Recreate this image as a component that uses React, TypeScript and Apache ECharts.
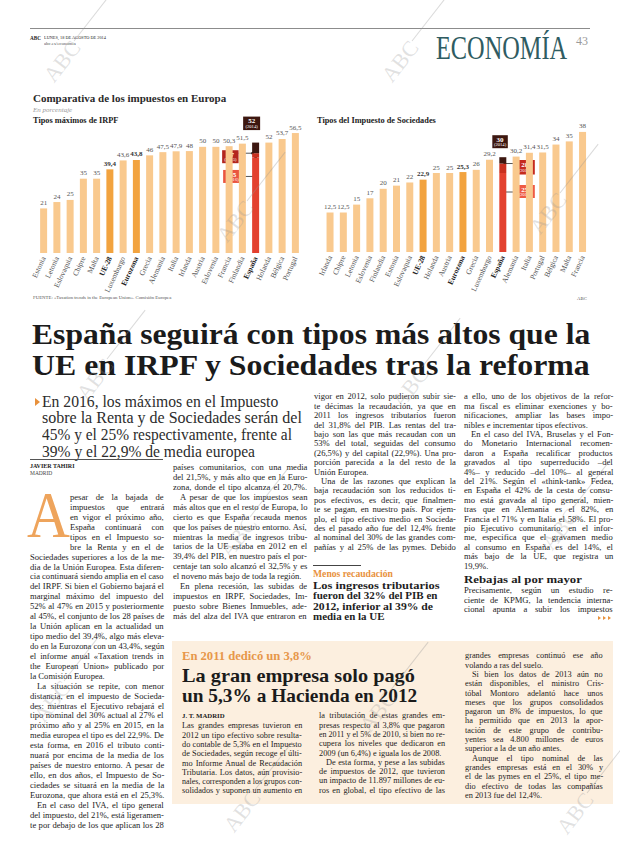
import React, { useEffect, useLayoutEffect, useRef } from 'react';
import * as echarts from 'echarts';

// ---------- chart data ----------
const irpfCountries = ['Estonia', 'Letonia', 'Eslovaquia', 'Chipre', 'Malta', 'UE-28', 'Luxemburgo', 'Eurozona', 'Grecia', 'Alemania', 'Italia', 'Irlanda', 'Austria', 'Eslovenia', 'Francia', 'Finlandia', 'España', 'Holanda', 'Bélgica', 'Portugal'];
const irpfValues = [21, 24, 25, 35, 35, 39.4, 43.6, 43.8, 46, 47.5, 47.9, 48, 50, 50, 50.3, 51.5, 52, 52, 53.7, 56.5];
const socCountries = ['Irlanda', 'Chipre', 'Letonia', 'Eslovenia', 'Finlandia', 'Estonia', 'Eslovaquia', 'UE-28', 'Holanda', 'Austria', 'Eurozona', 'Grecia', 'Luxemburgo', 'España', 'Alemania', 'Italia', 'Portugal', 'Bélgica', 'Malta', 'Francia'];
const socValues = [12.5, 12.5, 15, 17, 20, 21, 22, 22.9, 25, 25, 25.3, 26, 29.2, 30, 30.2, 31.4, 31.5, 34, 35, 38];
const spainYears = ['2014', '2015', '2016'];
const spainIrpf = [52, 47, 45];
const spainSoc = [30, 28, 25];
const averages = ['UE-28', 'Eurozona'];

// ---------- article text ----------
const headlineLines = ['España seguirá con tipos más altos que la', 'UE en IRPF y Sociedades tras la reforma'];
const leadLines = ['En 2016, los máximos en el Impuesto', 'sobre la Renta y de Sociedades serán del', '45% y el 25% respectivamente, frente al', '39% y el 22,9% de media europea'];
const col1Lines = [
  'pesar de la bajada de', 'impuestos que entrará', 'en vigor el próximo año,', 'España continuará con', 'tipos en el Impuesto so-', 'bre la Renta y en el de',
  'Sociedades superiores a los de la me-', 'dia de la Unión Europea. Esta diferen-', 'cia continuará siendo amplia en el caso', 'del IRPF. Si bien el Gobierno bajará el',
  'marginal máximo del impuesto del', '52% al 47% en 2015 y posteriormente', 'al 45%, el conjunto de los 28 países de', 'la Unión aplican en la actualidad un',
  'tipo medio del 39,4%, algo más eleva-', 'do en la Eurozona con un 43,4%, según', 'el informe anual «Taxation trends in', 'the European Union» publicado por', 'la Comisión Europea.~',
  '^La situación se repite, con menor', 'distancia, en el impuesto de Socieda-', 'des: mientras el Ejecutivo rebajará el', 'tipo nominal del 30% actual al 27% el',
  'próximo año y al 25% en 2015, en la', 'media europea el tipo es del 22,9%. De', 'esta forma, en 2016 el tributo conti-', 'nuará por encima de la media de los',
  'países de nuestro entorno. A pesar de', 'ello, en dos años, el Impuesto de So-', 'ciedades se situará en la media de la', 'Eurozona, que ahora está en el 25,3%.',
  '^En el caso del IVA, el tipo general', 'del impuesto, del 21%, está ligeramen-', 'te por debajo de los que aplican los 28',
];
const col2Lines = [
  'países comunitarios, con una media', 'del 21,5%, y más alto que en la Euro-', 'zona, donde el tipo alcanza el 20,7%.',
  '^A pesar de que los impuestos sean', 'más altos que en el resto de Europa, lo', 'cierto es que España recauda menos', 'que los países de nuestro entorno. Así,',
  'mientras la media de ingresos tribu-', 'tarios de la UE estaba en 2012 en el', '39,4% del PIB, en nuestro país el por-', 'centaje tan solo alcanzó el 32,5% y es',
  'el noveno más bajo de toda la región.~', '^En plena recesión, las subidas de', 'impuestos en IRPF, Sociedades, Im-', 'puesto sobre Bienes Inmuebles, ade-', 'más del alza del IVA que entraron en',
];
const col3Lines = [
  'vigor en 2012, solo pudieron subir sie-', 'te décimas la recaudación, ya que en', '2011 los ingresos tributarios fueron', 'del 31,8% del PIB. Las rentas del tra-',
  'bajo son las que más recaudan con un', '53% del total, seguidas del consumo', '(26,5%) y del capital (22,9%). Una pro-', 'porción parecida a la del resto de la', 'Unión Europea.~',
  '^Una de las razones que explican la', 'baja recaudación son los reducidos ti-', 'pos efectivos, es decir, que finalmen-', 'te se pagan, en nuestro país. Por ejem-',
  'plo, el tipo efectivo medio en Socieda-', 'des el pasado año fue del 12,4% frente', 'al nominal del 30% de las grandes com-', 'pañías y al 25% de las pymes. Debido',
];
const col4Lines = [
  'a ello, uno de los objetivos de la refor-', 'ma fiscal es eliminar exenciones y bo-', 'nificaciones, ampliar las bases impo-', 'nibles e incrementar tipos efectivos.~',
  '^En el caso del IVA, Bruselas y el Fon-', 'do Monetario Internacional recomen-', 'daron a España recalificar productos', 'gravados al tipo superreducido –del',
  '4%– y reducido –del 10%– al general', 'del 21%. Según el «think-tank» Fedea,', 'en España el 42% de la cesta de consu-', 'mo está gravada al tipo general, mien-',
  'tras que en Alemania es el 82%, en', 'Francia el 71% y en Italia el 58%. El pro-', 'pio Ejecutivo comunitario, en el infor-', 'me, especifica que el gravamen medio',
  'al consumo en España es del 14%, el', 'más bajo de la UE, que registra un', '19,9%.~',
];
const col4bLines = ['Precisamente, según un estudio re-', 'ciente de KPMG, la tendencia interna-', 'cional apunta a subir los impuestos'];
const sideHeadLines = ['Los ingresos tributarios', 'fueron del 32% del PIB en', '2012, inferior al 39% de', 'media en la UE'];
const boxHeadLines = ['La gran empresa solo pagó', 'un 5,3% a Hacienda en 2012'];
const boxALines = [
  'Las grandes empresas tuvieron en', '2012 un tipo efectivo sobre resulta-', 'do contable de 5,3% en el Impuesto', 'de Sociedades, según recoge el últi-',
  'mo Informe Anual de Recaudación', 'Tributaria. Los datos, aún provisio-', 'nales, corresponden a los grupos con-', 'solidados y suponen un aumento en',
];
const boxBLines = [
  'la tributación de estas grandes em-', 'presas respecto al 3,8% que pagaron', 'en 2011 y el 5% de 2010, si bien no re-', 'cupera los niveles que dedicaron en',
  '2009 (un 6,4%) e iguala los de 2008.~', '^De esta forma, y pese a las subidas', 'de impuestos de 2012, que tuvieron', 'un impacto de 11.897 millones de eu-',
  'ros en global, el tipo efectivo de las',
];
const boxCLines = [
  'grandes empresas continuó ese año', 'volando a ras del suelo.~', '^Si bien los datos de 2013 aún no', 'están disponibles, el ministro Cris-',
  'tóbal Montoro adelantó hace unos', 'meses que los grupos consolidados', 'pagaron un 8% de impuestos, lo que', 'ha permitido que en 2013 la apor-',
  'tación de este grupo de contribu-', 'yentes sea 4.800 millones de euros', 'superior a la de un año antes.~', '^Aunque el tipo nominal de las',
  'grandes empresas está en el 30% y', 'el de las pymes en el 25%, el tipo me-', 'dio efectivo de todas las compañías', 'en 2013 fue del 12,4%.~',
];

const SERIF = '"Liberation Serif", "DejaVu Serif", serif';
const PEACH = '#f9c98e';
const ORANGE = '#f2a33f';
const RED = '#e3412f';
const MID = '#c9301f';
const DARK = '#3d1710';
const ACCENT = '#e8913c';

const fmt = (v: number) => String(v).replace('.', ',');

function barSeries(countries: string[], values: number[], spain: number[], idx: number) {
  const si = countries.indexOf('España');
  const main = countries.map((c, i) => {
    if (i === si) return { value: spain[2], itemStyle: { color: RED }, label: { show: false } };
    const avg = averages.includes(c);
    return avg
      ? { value: values[i], itemStyle: { color: ORANGE }, label: { fontWeight: 'bold', color: '#333' } }
      : { value: values[i], itemStyle: { color: PEACH } };
  });
  const mid = countries.map((c, i) => (i === si ? +(spain[1] - spain[2]).toFixed(2) : '-'));
  const top = countries.map((c, i) => (i === si ? +(spain[0] - spain[1]).toFixed(2) : '-'));
  const base = { type: 'bar', xAxisIndex: idx, yAxisIndex: idx, stack: 's' + idx, barWidth: 7 };
  return [
    {
      ...base, data: main,
      label: { show: true, position: 'top', distance: 2, fontSize: 7, fontFamily: SERIF, color: '#555', formatter: (p: any) => fmt(p.value) },
    },
    { ...base, data: mid, itemStyle: { color: MID } },
    { ...base, data: top, itemStyle: { color: DARK } },
  ];
}

function xAxisFor(countries: string[], idx: number) {
  return {
    type: 'category', gridIndex: idx, data: countries,
    axisLine: { show: false }, axisTick: { show: false },
    axisLabel: {
      interval: 0, rotate: 65, margin: 4, fontSize: 7.5, color: '#4a4a4a', fontFamily: SERIF,
      formatter: (v: string) => (averages.includes(v) || v === 'España' ? `{b|${v}}` : v),
      rich: { b: { fontWeight: 'bold', color: '#222', fontSize: 7.5, fontFamily: SERIF } },
    },
  };
}

function boxEls(x: number, y: number, w: number, h: number, fill: string, val: number, year: string) {
  return [
    { type: 'rect', shape: { x, y, width: w, height: h }, style: { fill } },
    { type: 'text', x: x + w / 2, y: y + h * 0.36, style: { text: fmt(val), fill: '#fff', fontSize: 7, fontWeight: 'bold', fontFamily: SERIF, align: 'center', verticalAlign: 'middle' } },
    { type: 'text', x: x + w / 2, y: y + h * 0.75, style: { text: `(${year})`, fill: '#fff', fontSize: 4.6, fontFamily: SERIF, align: 'center', verticalAlign: 'middle' } },
  ];
}

function spainMarks(chart: any, idx: number, countries: string[], spain: number[], side: 'left' | 'right') {
  const si = countries.indexOf('España');
  const px = (v: number) => chart.convertToPixel({ xAxisIndex: idx, yAxisIndex: idx }, [si, v]);
  const [cx, y0] = px(spain[0]);
  const y1 = px(spain[1])[1];
  const y2 = px(spain[2])[1];
  const lineStyle = { stroke: '#2a2a2a', lineWidth: 0.8, fill: null };
  const dot = (x: number, y: number) => ({ type: 'circle', shape: { cx: x, cy: y, r: 1.4 }, style: { fill: '#1a1a1a' } });
  if (side === 'left') {
    return [
      ...boxEls(cx - 12.5, y0 - 26, 17, 13.5, DARK, spain[0], spainYears[0]),
      { type: 'polyline', shape: { points: [[cx - 17, y1], [cx - 3, y1]] }, style: lineStyle },
      dot(cx - 3, y1),
      ...boxEls(cx - 33.5, y1 - 3, 16.5, 13, '#b3261e', spain[1], spainYears[1]),
      { type: 'polyline', shape: { points: [[cx - 13.5, y2 + 19], [cx, y2 + 19], [cx, y2]] }, style: lineStyle },
      dot(cx, y2),
      ...boxEls(cx - 32.5, y2 + 12.5, 19, 13, '#ea5540', spain[2], spainYears[2]),
    ];
  }
  return [
    ...boxEls(cx - 10.5, y0 - 22, 15.5, 13, DARK, spain[0], spainYears[0]),
    { type: 'polyline', shape: { points: [[cx + 2, y1], [cx + 12, y1]] }, style: lineStyle },
    dot(cx + 2, y1),
    ...boxEls(cx + 12, y1 - 3.5, 20, 14.5, '#c52a1e', spain[1], spainYears[1]),
    { type: 'polyline', shape: { points: [[cx, y2], [cx, y2 + 19], [cx + 12, y2 + 19]] }, style: lineStyle },
    dot(cx, y2),
    ...boxEls(cx + 12, y2 + 12, 20, 13, '#ee5a44', spain[2], spainYears[2]),
  ];
}

function chartTexts() {
  const t = (x: number, y: number, text: string, fontSize: number, extra: any = {}) => ({
    type: 'text', x, y, style: { text, fontSize, fontFamily: SERIF, fill: '#222', verticalAlign: 'middle', ...extra },
  });
  return [
    t(33, 98, 'Comparativa de los impuestos en Europa', 11, { fontWeight: 'bold', fill: '#2a2a2a' }),
    t(33, 110, 'En porcentaje', 7, { fontStyle: 'italic', fill: '#9a9a9a' }),
    t(33, 120, 'Tipos máximos de IRPF', 8.3, { fontWeight: 'bold' }),
    t(317, 120, 'Tipos del Impuesto de Sociedades', 8.3, { fontWeight: 'bold' }),
    t(33, 297, 'FUENTE: «Taxation trends in the European Union». Comisión Europea', 4.8, { fill: '#555' }),
    t(577, 298, 'ABC', 4.8, { fill: '#555' }),
  ];
}

function Charts() {
  const ref = useRef<HTMLDivElement>(null);
  useEffect(() => {
    const chart = echarts.init(ref.current as HTMLDivElement, null, { renderer: 'svg' });
    chart.setOption({
      animation: false,
      backgroundColor: 'transparent',
      grid: [
        { left: 37, top: 125.6, width: 265, height: 127.4 },
        { left: 323.4, top: 125.6, width: 265.8, height: 126.4 },
      ],
      xAxis: [xAxisFor(irpfCountries, 0), xAxisFor(socCountries, 1)],
      yAxis: [
        { type: 'value', gridIndex: 0, min: 0, max: 60, show: false },
        { type: 'value', gridIndex: 1, min: 0, max: 40, show: false },
      ],
      series: [...barSeries(irpfCountries, irpfValues, spainIrpf, 0), ...barSeries(socCountries, socValues, spainSoc, 1)],
    });
    chart.setOption({
      graphic: [
        ...chartTexts(),
        ...spainMarks(chart, 0, irpfCountries, spainIrpf, 'left'),
        ...spainMarks(chart, 1, socCountries, spainSoc, 'right'),
      ],
    });
    return () => chart.dispose();
  }, []);
  return <div ref={ref} style={{ position: 'absolute', left: 0, top: 0, width: 620, height: 305 }} />;
}

// ---------- text helpers ----------
type LineProps = {
  text: string; x: number; y: number; w?: number; size: number; lh?: number; weight?: any;
  color?: string; mode?: 'justify' | 'fit' | 'left'; italic?: boolean; ls?: number; family?: string;
};

function Line(p: LineProps) {
  const ref = useRef<HTMLSpanElement>(null);
  useLayoutEffect(() => {
    const el = ref.current;
    if (!el) return;
    const fit = () => {
      el.style.wordSpacing = '0px';
      el.style.transform = 'none';
      const nat = el.offsetWidth;
      if (!p.w || nat === 0) return;
      const mode = p.mode || 'left';
      if (mode === 'fit' || nat > p.w) {
        el.style.transform = `scaleX(${p.w / nat})`;
        return;
      }
      if (mode === 'justify') {
        const sp = (p.text.match(/ /g) || []).length;
        if (sp > 0) el.style.wordSpacing = `${(p.w - nat) / sp}px`;
      }
    };
    fit();
    const fonts = (document as any).fonts;
    if (fonts && fonts.ready) fonts.ready.then(fit);
  }, [p.text, p.w, p.mode]);
  const lh = p.lh ?? p.size * 1.2;
  return (
    <div style={{
      position: 'absolute', left: p.x, top: p.y - lh / 2, height: lh, lineHeight: `${lh}px`, whiteSpace: 'pre',
      fontSize: p.size, fontFamily: p.family || SERIF, fontWeight: p.weight || 'normal', fontStyle: p.italic ? 'italic' : 'normal',
      color: p.color || '#1c1c1c', letterSpacing: p.ls,
    }}>
      <span ref={ref} style={{ display: 'inline-block', transformOrigin: '0 50%' }}>{p.text}</span>
    </div>
  );
}

function Column(props: { lines: string[]; x: number; w: number; y0: number; lh: number; size: number; drop?: number; dropIndent?: number }) {
  return (
    <>
      {props.lines.map((raw, i) => {
        let t = raw;
        let indent = 0;
        let end = false;
        if (t.startsWith('^')) { t = t.slice(1); indent = 7; }
        if (t.endsWith('~')) { t = t.slice(0, -1); end = true; }
        if (props.drop && i < props.drop) indent = props.dropIndent || 0;
        return (
          <Line key={i} text={t} x={props.x + indent} y={props.y0 + i * props.lh} w={props.w - indent}
            size={props.size} lh={props.lh} mode={end ? 'left' : 'justify'} />
        );
      })}
    </>
  );
}

const Tri = ({ x, y, s = 4, color = ACCENT }: { x: number; y: number; s?: number; color?: string }) => (
  <div style={{ position: 'absolute', left: x, top: y - s, width: 0, height: 0, borderTop: `${s}px solid transparent`, borderBottom: `${s}px solid transparent`, borderLeft: `${s * 1.3}px solid ${color}` }} />
);

const watermarks = [[62, 62], [400, 62], [235, 222], [548, 214], [95, 380], [410, 388], [238, 538], [560, 530], [52, 702], [378, 712], [242, 812], [575, 814]];

const Watermark = ({ x, y }: { x: number; y: number }) => (
  <div style={{ position: 'absolute', left: x - 22, top: y - 12, width: 130, height: 24, transform: 'rotate(-52deg)', transformOrigin: '22px 12px', pointerEvents: 'none' }}>
    <span style={{ fontFamily: SERIF, fontSize: 22, lineHeight: '24px', color: 'rgba(150,150,150,0.28)' }}>ABC</span>
    <div style={{ position: 'absolute', left: 46, top: 8, width: 62, height: 0.8, background: 'rgba(150,150,150,0.35)' }} />
  </div>
);

export default function App() {
  const BODY = 8.6;
  const LH = 9.4;
  const LH12 = 9.93;
  return (
    <div style={{ position: 'absolute', left: 0, top: 0, width: 620, height: 846, background: '#fff', overflow: 'hidden' }}>
      {/* header */}
      <div style={{ position: 'absolute', left: 30, top: 28, width: 560, height: 1, background: '#8c8c8c' }} />
      <Line text="ABC" x={30} y={38} size={5.2} weight="bold" />
      <Line text="LUNES, 18 DE AGOSTO DE 2014" x={44} y={38} w={62} size={5} mode="fit" />
      <Line text="abc.es/economia" x={44} y={44} w={32} size={4.2} mode="fit" color="#555" />
      <Line text="ECONOMÍA" x={436} y={48} w={131} size={34} mode="fit" color="#2f5c62" lh={36} />
      <Line text="43" x={576} y={41} size={12} color="#9a9a9a" />

      <Charts />

      {/* headline */}
      {headlineLines.map((t, i) => (
        <Line key={'h' + i} text={t} x={32} y={333 + i * 31} w={558} size={30} lh={31} weight="bold" mode="fit" color="#1b1b1b" />
      ))}

      {/* lead */}
      <Tri x={35} y={402} s={4} />
      {leadLines.map((t, i) => (
        <Line key={'l' + i} text={t} x={42} y={402 + i * 16.8} w={[236, 260, 250, 213][i]} size={16} lh={16.8} mode="fit" color="#2c2c2c" />
      ))}

      {/* byline */}
      <div style={{ position: 'absolute', left: 30, top: 459, width: 133, height: 1, background: '#555' }} />
      <Line text="JAVIER TAHIRI" x={30} y={466} w={45} size={6} lh={6.5} weight="bold" mode="fit" />
      <Line text="MADRID" x={30} y={473} w={22} size={5.5} lh={6} mode="fit" color="#444" />

      {/* drop cap */}
      <div style={{ position: 'absolute', left: 27, top: 478, height: 73, fontFamily: SERIF, fontSize: 66, lineHeight: '73px', color: '#eea45c', transform: 'scaleX(0.9)', transformOrigin: '0 0' }}>A</div>

      <Column lines={col1Lines} x={30} w={134} y0={498} lh={LH12} size={BODY} drop={6} dropIndent={40} />
      <Column lines={col2Lines} x={173} w={134} y0={468} lh={LH12} size={BODY} />
      <Column lines={col3Lines} x={314} w={142} y0={397} lh={LH} size={BODY} />
      <Column lines={col4Lines} x={464} w={149} y0={397} lh={LH} size={BODY} />

      {/* side head */}
      <div style={{ position: 'absolute', left: 313, top: 565, width: 48, height: 1, background: '#444' }} />
      <Line text="Menos recaudación" x={313} y={574} w={80} size={10} lh={10} weight="bold" mode="fit" color={ACCENT} />
      {sideHeadLines.map((t, i) => (
        <Line key={'s' + i} text={t} x={313} y={586 + i * 10.5} w={[127, 125, 120, 72][i]} size={10.5} lh={10.5} weight="bold" mode="fit" color="#1e1e1e" />
      ))}

      {/* col 4 second block */}
      <Line text="Rebajas al por mayor" x={464} y={580} w={118} size={10.5} lh={10.5} weight="bold" mode="fit" color="#1e1e1e" />
      <Column lines={col4bLines} x={464} w={149} y0={591} lh={LH} size={BODY} />
      <Tri x={598} y={618} s={2.5} />
      <Tri x={603} y={618} s={2.5} />
      <Tri x={608} y={618} s={2.5} />

      {/* box */}
      <div style={{ position: 'absolute', left: 172, top: 641, width: 441, height: 163, background: '#fcefdf' }} />
      <Line text="En 2011 dedicó un 3,8%" x={182} y={656} w={130} size={12.5} lh={13} weight="bold" mode="fit" color="#e7974a" />
      {boxHeadLines.map((t, i) => (
        <Line key={'b' + i} text={t} x={182} y={676 + i * 20} w={[233, 235][i]} size={19.5} lh={20} weight="bold" mode="fit" color="#1b1b1b" />
      ))}
      <Line text="J. T. MADRID" x={182} y={716} w={43} size={5.5} lh={7} weight="bold" mode="fit" />
      <Column lines={boxALines} x={182} w={120} y0={726} lh={9.3} size={8.3} />
      <Column lines={boxBLines} x={319} w={126} y0={716} lh={9.3} size={8.3} />
      <Column lines={boxCLines} x={465} w={138} y0={656} lh={9.3} size={8.3} />

      {watermarks.map(([x, y], i) => <Watermark key={'w' + i} x={x} y={y} />)}
    </div>
  );
}
